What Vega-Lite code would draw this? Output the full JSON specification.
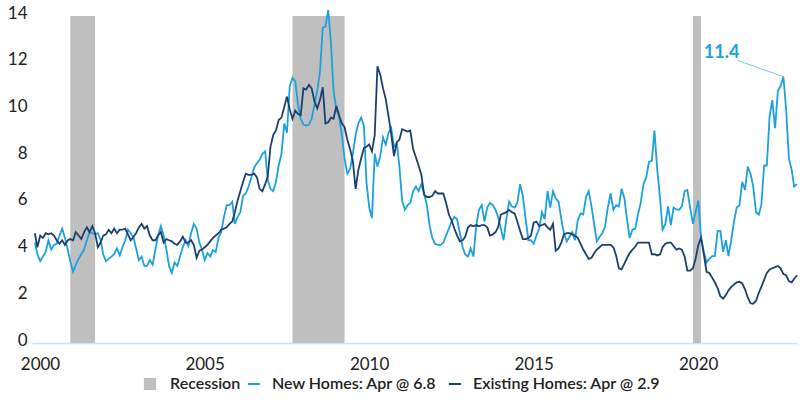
{
  "$schema": "https://vega.github.io/schema/vega-lite/v6.json",
  "width": 765,
  "height": 327,
  "autosize": {"type": "none"},
  "padding": {"left": 32, "top": 16, "right": 3, "bottom": 57},
  "config": {
    "font": "Lato",
    "view": {"stroke": null}
  },
  "layer": [
    {
      "data": {
        "values": [
          {"s": "2001-03", "t": "2001-12", "lab": "Recession"},
          {"s": "2007-12", "t": "2009-07", "lab": "Recession"},
          {"s": "2020-02", "t": "2020-05", "lab": "Recession"}
        ],
        "format": {"parse": {"s": "utc:'%Y-%m'", "t": "utc:'%Y-%m'"}}
      },
      "mark": {"type": "rect"},
      "encoding": {
        "x": {"field": "s", "type": "temporal"},
        "x2": {"field": "t"},
        "fill": {
          "field": "lab", "type": "nominal",
          "scale": {"domain": ["Recession"], "range": ["#bfbfbf"]},
          "legend": {"title": null, "orient": "none", "direction": "horizontal", "legendX": 110, "legendY": 360, "symbolType": "square", "symbolSize": 150, "labelFontSize": 16, "labelFontWeight": 600, "labelColor": "#222", "labelLimit": 0, "labelOffset": 12, "symbolStrokeWidth": 0}
        }
      }
    },
    {
      "data": {
        "values": [
{"d":"2000-02","n":4.3,"e":4.7},{"d":"2000-03","n":3.8,"e":4.1},{"d":"2000-04","n":3.5,"e":4.6},{"d":"2000-05","n":3.7,"e":4.5},{"d":"2000-06","n":3.9,"e":4.7},{"d":"2000-07","n":4.4,"e":4.65},{"d":"2000-08","n":4.0,"e":4.7},{"d":"2000-09","n":4.2,"e":4.6},{"d":"2000-10","n":4.25,"e":4.4},{"d":"2000-11","n":4.6,"e":4.25},{"d":"2000-12","n":4.9,"e":4.4},
{"d":"2001-01","n":4.5,"e":4.2},{"d":"2001-02","n":4.0,"e":4.4},{"d":"2001-03","n":3.5,"e":4.45},{"d":"2001-04","n":3.05,"e":4.4},{"d":"2001-05","n":3.35,"e":4.75},{"d":"2001-06","n":3.6,"e":4.6},{"d":"2001-07","n":3.8,"e":4.45},{"d":"2001-08","n":4.0,"e":4.75},{"d":"2001-09","n":4.4,"e":4.95},{"d":"2001-10","n":4.75,"e":4.75},{"d":"2001-11","n":4.7,"e":5.0},{"d":"2001-12","n":4.65,"e":4.7},
{"d":"2002-01","n":4.7,"e":4.1},{"d":"2002-02","n":4.4,"e":4.3},{"d":"2002-03","n":3.8,"e":4.6},{"d":"2002-04","n":3.5,"e":4.65},{"d":"2002-05","n":3.6,"e":4.85},{"d":"2002-06","n":3.7,"e":4.7},{"d":"2002-07","n":3.8,"e":4.9},{"d":"2002-08","n":4.05,"e":4.7},{"d":"2002-09","n":3.75,"e":4.85},{"d":"2002-10","n":4.1,"e":4.85},{"d":"2002-11","n":4.4,"e":4.9},{"d":"2002-12","n":4.85,"e":4.65},
{"d":"2003-01","n":4.7,"e":4.4},{"d":"2003-02","n":4.5,"e":4.55},{"d":"2003-03","n":4.06,"e":4.7},{"d":"2003-04","n":3.55,"e":4.95},{"d":"2003-05","n":3.7,"e":5.1},{"d":"2003-06","n":3.3,"e":4.9},{"d":"2003-07","n":3.3,"e":5.0},{"d":"2003-08","n":3.55,"e":4.6},{"d":"2003-09","n":3.35,"e":4.4},{"d":"2003-10","n":4.0,"e":4.4},{"d":"2003-11","n":4.6,"e":4.6},{"d":"2003-12","n":5.0,"e":4.75},
{"d":"2004-01","n":4.6,"e":4.3},{"d":"2004-02","n":4.0,"e":4.45},{"d":"2004-03","n":3.3,"e":4.4},{"d":"2004-04","n":3.0,"e":4.35},{"d":"2004-05","n":3.45,"e":4.25},{"d":"2004-06","n":3.3,"e":4.2},{"d":"2004-07","n":3.7,"e":4.35},{"d":"2004-08","n":4.1,"e":4.55},{"d":"2004-09","n":4.4,"e":4.3},{"d":"2004-10","n":4.15,"e":4.3},{"d":"2004-11","n":4.7,"e":4.4},{"d":"2004-12","n":5.1,"e":4.2},
{"d":"2005-01","n":4.9,"e":3.65},{"d":"2005-02","n":4.3,"e":3.95},{"d":"2005-03","n":4.0,"e":4.0},{"d":"2005-04","n":3.55,"e":4.1},{"d":"2005-05","n":3.85,"e":4.2},{"d":"2005-06","n":3.7,"e":4.35},{"d":"2005-07","n":3.98,"e":4.5},{"d":"2005-08","n":3.9,"e":4.6},{"d":"2005-09","n":4.5,"e":4.7},{"d":"2005-10","n":4.75,"e":4.85},{"d":"2005-11","n":5.4,"e":4.9},{"d":"2005-12","n":5.9,"e":4.95},
{"d":"2006-01","n":5.9,"e":5.1},{"d":"2006-02","n":6.05,"e":5.2},{"d":"2006-03","n":5.1,"e":5.6},{"d":"2006-04","n":5.4,"e":6.1},{"d":"2006-05","n":5.6,"e":6.5},{"d":"2006-06","n":6.3,"e":6.9},{"d":"2006-07","n":6.4,"e":7.25},{"d":"2006-08","n":6.7,"e":7.2},{"d":"2006-09","n":7.1,"e":7.2},{"d":"2006-10","n":7.5,"e":7.25},{"d":"2006-11","n":7.7,"e":7.1},{"d":"2006-12","n":7.84,"e":6.6},
{"d":"2007-01","n":8.1,"e":6.5},{"d":"2007-02","n":8.2,"e":6.8},{"d":"2007-03","n":7.0,"e":7.1},{"d":"2007-04","n":6.6,"e":8.4},{"d":"2007-05","n":6.5,"e":8.9},{"d":"2007-06","n":6.9,"e":9.1},{"d":"2007-07","n":7.6,"e":9.55},{"d":"2007-08","n":8.1,"e":9.65},{"d":"2007-09","n":9.4,"e":10.1},{"d":"2007-10","n":9.0,"e":10.55},{"d":"2007-11","n":11.0,"e":10.0},{"d":"2007-12","n":11.35,"e":9.6},
{"d":"2008-01","n":11.2,"e":9.95},{"d":"2008-02","n":10.2,"e":9.8},{"d":"2008-03","n":9.6,"e":9.75},{"d":"2008-04","n":9.35,"e":10.9},{"d":"2008-05","n":9.3,"e":10.85},{"d":"2008-06","n":9.35,"e":11.05},{"d":"2008-07","n":9.6,"e":10.9},{"d":"2008-08","n":10.2,"e":10.35},{"d":"2008-09","n":10.8,"e":10.05},{"d":"2008-10","n":11.6,"e":10.4},{"d":"2008-11","n":13.5,"e":10.95},{"d":"2008-12","n":13.55,"e":9.4},
{"d":"2009-01","n":14.25,"e":9.45},{"d":"2009-02","n":12.8,"e":9.65},{"d":"2009-03","n":10.8,"e":9.6},{"d":"2009-04","n":10.0,"e":10.15},{"d":"2009-05","n":9.7,"e":9.75},{"d":"2009-06","n":8.9,"e":9.4},{"d":"2009-07","n":7.9,"e":9.25},{"d":"2009-08","n":7.25,"e":8.7},{"d":"2009-09","n":7.45,"e":8.3},{"d":"2009-10","n":8.1,"e":7.8},{"d":"2009-11","n":8.9,"e":6.6},{"d":"2009-12","n":9.4,"e":7.4},
{"d":"2010-01","n":9.65,"e":7.9},{"d":"2010-02","n":9.3,"e":8.35},{"d":"2010-03","n":6.9,"e":8.4},{"d":"2010-04","n":5.8,"e":8.5},{"d":"2010-05","n":5.35,"e":8.2},{"d":"2010-06","n":8.1,"e":8.9},{"d":"2010-07","n":7.55,"e":11.85},{"d":"2010-08","n":8.0,"e":11.5},{"d":"2010-09","n":8.8,"e":10.9},{"d":"2010-10","n":8.5,"e":10.45},{"d":"2010-11","n":9.0,"e":9.7},{"d":"2010-12","n":9.2,"e":8.95},
{"d":"2011-01","n":8.4,"e":8.0},{"d":"2011-02","n":8.55,"e":8.6},{"d":"2011-03","n":7.6,"e":8.7},{"d":"2011-04","n":6.1,"e":9.15},{"d":"2011-05","n":5.7,"e":9.1},{"d":"2011-06","n":5.9,"e":9.05},{"d":"2011-07","n":6.0,"e":9.1},{"d":"2011-08","n":6.5,"e":8.3},{"d":"2011-09","n":6.7,"e":7.95},{"d":"2011-10","n":6.5,"e":7.6},{"d":"2011-11","n":6.8,"e":7.2},{"d":"2011-12","n":6.4,"e":6.35},
{"d":"2012-01","n":5.9,"e":6.25},{"d":"2012-02","n":5.0,"e":6.25},{"d":"2012-03","n":4.5,"e":6.3},{"d":"2012-04","n":4.25,"e":6.5},{"d":"2012-05","n":4.2,"e":6.4},{"d":"2012-06","n":4.2,"e":6.4},{"d":"2012-07","n":4.3,"e":6.4},{"d":"2012-08","n":4.6,"e":6.0},{"d":"2012-09","n":4.9,"e":5.5},{"d":"2012-10","n":5.2,"e":5.25},{"d":"2012-11","n":5.4,"e":4.9},{"d":"2012-12","n":5.3,"e":4.6},
{"d":"2013-01","n":4.7,"e":4.35},{"d":"2013-02","n":4.1,"e":4.4},{"d":"2013-03","n":3.8,"e":4.55},{"d":"2013-04","n":3.7,"e":4.95},{"d":"2013-05","n":4.05,"e":5.05},{"d":"2013-06","n":3.7,"e":5.0},{"d":"2013-07","n":5.0,"e":5.05},{"d":"2013-08","n":5.7,"e":5.0},{"d":"2013-09","n":5.9,"e":5.05},{"d":"2013-10","n":5.2,"e":5.05},{"d":"2013-11","n":5.8,"e":4.95},{"d":"2013-12","n":6.0,"e":4.6},
{"d":"2014-01","n":5.9,"e":4.65},{"d":"2014-02","n":5.7,"e":4.75},{"d":"2014-03","n":5.4,"e":4.95},{"d":"2014-04","n":4.9,"e":5.5},{"d":"2014-05","n":4.4,"e":5.55},{"d":"2014-06","n":5.3,"e":5.6},{"d":"2014-07","n":6.05,"e":5.7},{"d":"2014-08","n":5.85,"e":5.6},{"d":"2014-09","n":5.8,"e":5.55},{"d":"2014-10","n":6.0,"e":5.2},{"d":"2014-11","n":6.8,"e":4.8},{"d":"2014-12","n":6.3,"e":4.45},
{"d":"2015-01","n":5.3,"e":4.45},{"d":"2015-02","n":4.4,"e":4.5},{"d":"2015-03","n":4.4,"e":4.6},{"d":"2015-04","n":4.25,"e":5.15},{"d":"2015-05","n":4.6,"e":5.2},{"d":"2015-06","n":4.9,"e":5.0},{"d":"2015-07","n":5.6,"e":5.05},{"d":"2015-08","n":5.3,"e":5.1},{"d":"2015-09","n":6.5,"e":4.95},{"d":"2015-10","n":5.8,"e":4.85},{"d":"2015-11","n":6.5,"e":5.1},{"d":"2015-12","n":6.2,"e":3.95},
{"d":"2016-01","n":6.05,"e":4.05},{"d":"2016-02","n":5.3,"e":4.3},{"d":"2016-03","n":4.7,"e":4.65},{"d":"2016-04","n":4.35,"e":4.7},{"d":"2016-05","n":4.55,"e":4.7},{"d":"2016-06","n":4.75,"e":4.65},{"d":"2016-07","n":4.4,"e":4.6},{"d":"2016-08","n":5.25,"e":4.5},{"d":"2016-09","n":5.55,"e":4.25},{"d":"2016-10","n":5.5,"e":4.0},{"d":"2016-11","n":6.25,"e":3.8},{"d":"2016-12","n":6.5,"e":3.6},
{"d":"2017-01","n":5.85,"e":3.65},{"d":"2017-02","n":5.05,"e":3.85},{"d":"2017-03","n":4.35,"e":4.0},{"d":"2017-04","n":4.55,"e":4.1},{"d":"2017-05","n":4.7,"e":4.2},{"d":"2017-06","n":5.0,"e":4.2},{"d":"2017-07","n":5.8,"e":4.2},{"d":"2017-08","n":6.4,"e":4.2},{"d":"2017-09","n":5.7,"e":4.1},{"d":"2017-10","n":5.9,"e":3.75},{"d":"2017-11","n":5.85,"e":3.2},{"d":"2017-12","n":6.6,"e":3.15},
{"d":"2018-01","n":6.2,"e":3.4},{"d":"2018-02","n":5.25,"e":3.65},{"d":"2018-03","n":4.5,"e":3.85},{"d":"2018-04","n":4.85,"e":4.0},{"d":"2018-05","n":4.9,"e":4.12},{"d":"2018-06","n":5.5,"e":4.3},{"d":"2018-07","n":6.0,"e":4.3},{"d":"2018-08","n":6.8,"e":4.3},{"d":"2018-09","n":7.1,"e":4.3},{"d":"2018-10","n":7.75,"e":4.3},{"d":"2018-11","n":7.8,"e":3.8},{"d":"2018-12","n":9.1,"e":3.8},
{"d":"2019-01","n":7.4,"e":3.75},{"d":"2019-02","n":6.2,"e":3.8},{"d":"2019-03","n":4.85,"e":4.1},{"d":"2019-04","n":5.1,"e":4.25},{"d":"2019-05","n":5.85,"e":4.3},{"d":"2019-06","n":5.05,"e":4.3},{"d":"2019-07","n":5.8,"e":4.15},{"d":"2019-08","n":5.72,"e":4.0},{"d":"2019-09","n":5.7,"e":4.05},{"d":"2019-10","n":5.85,"e":4.0},{"d":"2019-11","n":6.5,"e":3.7},{"d":"2019-12","n":6.55,"e":3.1},
{"d":"2020-01","n":5.8,"e":3.1},{"d":"2020-02","n":5.1,"e":3.2},{"d":"2020-03","n":5.6,"e":3.6},{"d":"2020-04","n":6.1,"e":4.2},{"d":"2020-05","n":4.5,"e":4.5},{"d":"2020-06","n":3.9,"e":3.8},{"d":"2020-07","n":3.45,"e":3.05},{"d":"2020-08","n":3.6,"e":3.0},{"d":"2020-09","n":3.72,"e":2.8},{"d":"2020-10","n":3.72,"e":2.6},{"d":"2020-11","n":4.8,"e":2.35},{"d":"2020-12","n":4.8,"e":2.0},
{"d":"2021-01","n":3.9,"e":1.9},{"d":"2021-02","n":4.4,"e":2.05},{"d":"2021-03","n":3.72,"e":2.25},{"d":"2021-04","n":4.4,"e":2.4},{"d":"2021-05","n":5.2,"e":2.5},{"d":"2021-06","n":5.8,"e":2.6},{"d":"2021-07","n":5.9,"e":2.62},{"d":"2021-08","n":6.9,"e":2.55},{"d":"2021-09","n":6.55,"e":2.3},{"d":"2021-10","n":7.55,"e":1.95},{"d":"2021-11","n":7.25,"e":1.7},{"d":"2021-12","n":6.7,"e":1.68},
{"d":"2022-01","n":5.6,"e":1.8},{"d":"2022-02","n":5.5,"e":2.15},{"d":"2022-03","n":5.9,"e":2.4},{"d":"2022-04","n":7.6,"e":2.7},{"d":"2022-05","n":7.6,"e":3.0},{"d":"2022-06","n":9.7,"e":3.15},{"d":"2022-07","n":10.4,"e":3.2},{"d":"2022-08","n":9.2,"e":3.25},{"d":"2022-09","n":10.8,"e":3.3},{"d":"2022-10","n":11.0,"e":3.2},{"d":"2022-11","n":11.4,"e":2.95},{"d":"2022-12","n":10.0,"e":2.9},
{"d":"2023-01","n":7.9,"e":2.65},{"d":"2023-02","n":7.4,"e":2.6},{"d":"2023-03","n":6.7,"e":2.75},{"d":"2023-04","n":6.8,"e":2.9}
        ],
        "format": {"parse": {"d": "utc:'%Y-%m'"}}
      },
      "transform": [{"fold": ["n", "e"], "as": ["series", "value"]}],
      "mark": {"type": "line", "strokeWidth": 1.8},
      "encoding": {
        "x": {
          "field": "d", "type": "temporal",
          "scale": {"type": "utc", "domain": [{"year": 2000, "month": 1, "date": 1, "utc": true}, {"year": 2023, "month": 4, "date": 1, "utc": true}]},
          "axis": {"title": null, "format": "%Y", "tickCount": {"interval": "year", "step": 5}, "grid": false, "ticks": false, "domainColor": "#cfe4f3", "domainWidth": 1.5, "labelFontSize": 17, "labelColor": "#222", "labelPadding": 13, "labelOffset": 8, "labelFlush": false}
        },
        "y": {
          "field": "value", "type": "quantitative",
          "scale": {"domain": [0, 14], "nice": false},
          "axis": {"title": null, "values": [0, 2, 4, 6, 8, 10, 12, 14], "grid": false, "ticks": false, "domain": false, "labelFontSize": 17, "labelColor": "#222", "labelPadding": 5, "labelOffset": -3}
        },
        "stroke": {
          "field": "series", "type": "nominal",
          "scale": {"domain": ["n", "e"], "range": ["#1ba1de", "#1c3f70"]},
          "legend": {"title": null, "orient": "none", "direction": "horizontal", "legendX": 214, "legendY": 360, "symbolType": "stroke", "symbolSize": 150, "symbolStrokeWidth": 2, "labelFontSize": 16, "labelFontWeight": 600, "labelColor": "#222", "labelLimit": 0, "labelOffset": 10, "columnPadding": 7, "labelExpr": "datum.label == 'n' ? 'New Homes: Apr @ 6.8' : 'Existing Homes: Apr @ 2.9'"}
        }
      }
    },
    {
      "data": {"values": [{"a": "2021-06-10", "b": "2022-11-01", "y1": 12.1, "y2": 11.4}], "format": {"parse": {"a": "utc:'%Y-%m-%d'", "b": "utc:'%Y-%m-%d'"}}},
      "mark": {"type": "rule", "color": "#7cc6ec", "strokeWidth": 1},
      "encoding": {
        "x": {"field": "a", "type": "temporal"},
        "x2": {"field": "b"},
        "y": {"field": "y1", "type": "quantitative"},
        "y2": {"field": "y2"}
      }
    },
    {
      "data": {"values": [{"a": "2020-12-15", "v": 12.4, "txt": "11.4"}], "format": {"parse": {"a": "utc:'%Y-%m-%d'"}}},
      "mark": {"type": "text", "color": "#1ba1de", "fontSize": 18, "fontWeight": "bold", "align": "center", "baseline": "middle"},
      "encoding": {
        "x": {"field": "a", "type": "temporal"},
        "y": {"field": "v", "type": "quantitative"},
        "text": {"field": "txt"}
      }
    }
  ]
}
